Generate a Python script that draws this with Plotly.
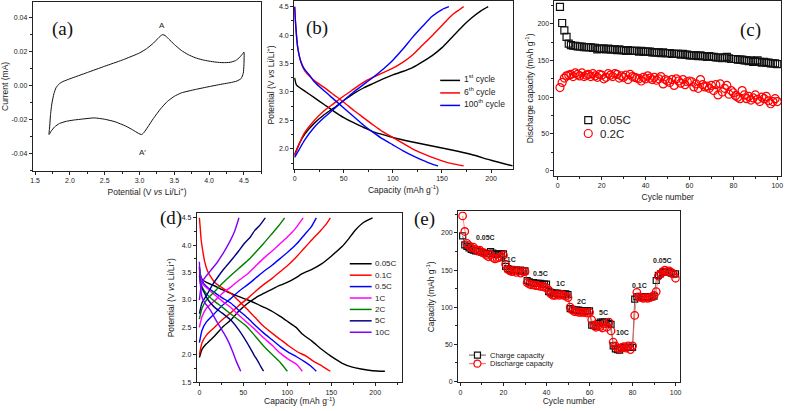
import plotly.graph_objects as go

W, H = 787, 411
SANS = 'Liberation Sans, Arial, sans-serif'
SERIF = 'Liberation Serif, Times New Roman, serif'

# ---------------- data ----------------
# (a) cyclic voltammogram: anodic sweep 1.7 -> 4.5 V, then cathodic sweep back
cv_potential = [1.70, 1.71, 1.72, 1.74, 1.77, 1.80, 1.85, 1.90, 2.00, 2.25, 2.50, 2.75, 3.00, 3.10,
                3.20, 3.28, 3.33, 3.37, 3.42, 3.50, 3.60, 3.70, 3.80, 3.90, 4.00, 4.10, 4.20, 4.30,
                4.38, 4.44, 4.48, 4.50,
                4.50, 4.49, 4.46, 4.40, 4.30, 4.20, 4.00, 3.80, 3.60, 3.50, 3.40, 3.30, 3.20, 3.12,
                3.06, 3.03, 2.98, 2.90, 2.80, 2.65, 2.50, 2.35, 2.20, 2.05, 1.95, 1.85, 1.78, 1.73, 1.70]
cv_current = [-0.0290, -0.0240, -0.0180, -0.0110, -0.0050, -0.0015, 0.0010, 0.0022, 0.0038, 0.0075,
              0.0112, 0.0148, 0.0190, 0.0215, 0.0248, 0.0282, 0.0298, 0.0292, 0.0272, 0.0240, 0.0205,
              0.0180, 0.0162, 0.0150, 0.0142, 0.0136, 0.0133, 0.0135, 0.0145, 0.0165, 0.0185, 0.0195,
              0.0120, 0.0070, 0.0040, 0.0025, 0.0015, 0.0008, -0.0008, -0.0025, -0.0045, -0.0065,
              -0.0095, -0.0140, -0.0195, -0.0245, -0.0280, -0.0290, -0.0282, -0.0262, -0.0240,
              -0.0215, -0.0200, -0.0192, -0.0198, -0.0205, -0.0212, -0.0225, -0.0245, -0.0270, -0.0290]

# (b) charge/discharge profiles of selected cycles
b_labels = ['1<sup>st</sup> cycle', '6<sup>th</sup> cycle', '100<sup>th</sup> cycle']
b_colors = ['#000000', '#ff0000', '#0000ff']
b_chg_cap = [
    [0, 5, 10, 20, 30, 40, 50, 60, 70, 80, 90, 100, 110, 120, 130, 140, 150, 160, 170, 180, 190, 197],
    [0, 5, 10, 20, 30, 40, 50, 60, 70, 80, 90, 100, 110, 120, 130, 140, 150, 160, 168, 172],
    [0, 5, 10, 20, 30, 40, 50, 60, 70, 80, 90, 100, 110, 120, 130, 140, 150, 157],
]
b_chg_v = [
    [1.90, 2.10, 2.25, 2.45, 2.60, 2.72, 2.85, 2.97, 3.07, 3.15, 3.23, 3.30, 3.36, 3.43, 3.53,
     3.64, 3.78, 3.96, 4.14, 4.30, 4.43, 4.50],
    [1.88, 2.10, 2.28, 2.50, 2.67, 2.80, 2.93, 3.05, 3.17, 3.26, 3.34, 3.42, 3.52, 3.65, 3.82,
     3.99, 4.17, 4.35, 4.45, 4.50],
    [1.85, 2.00, 2.15, 2.38, 2.55, 2.70, 2.85, 3.00, 3.13, 3.26, 3.40, 3.56, 3.75, 3.96, 4.15,
     4.33, 4.45, 4.50],
]
b_dis_cap = [
    [0, 2, 10, 20, 30, 40, 50, 60, 70, 80, 90, 100, 120, 140, 160, 180, 200, 222],
    [0, 1, 3, 6, 10, 15, 20, 30, 40, 50, 60, 70, 80, 90, 100, 110, 120, 130, 140, 150, 160, 172],
    [0, 1, 3, 6, 10, 15, 20, 30, 40, 50, 60, 70, 80, 90, 100, 110, 120, 130, 140, 146],
]
b_dis_v = [
    [3.25, 3.12, 3.02, 2.90, 2.78, 2.66, 2.55, 2.46, 2.38, 2.30, 2.25, 2.20, 2.12, 2.05, 1.98,
     1.90, 1.80, 1.70],
    [4.50, 4.20, 3.80, 3.55, 3.38, 3.28, 3.20, 3.08, 2.95, 2.82, 2.68, 2.55, 2.42, 2.30, 2.20,
     2.10, 2.00, 1.92, 1.85, 1.79, 1.74, 1.70],
    [4.50, 4.20, 3.80, 3.55, 3.40, 3.30, 3.18, 3.02, 2.87, 2.72, 2.57, 2.42, 2.29, 2.17, 2.07,
     1.97, 1.88, 1.80, 1.73, 1.70],
]

# (c) cycling at two rates
c_cycle = list(range(1, 101))
c_005 = [223, 201, 191, 182, 173, 171, 170, 170, 169, 169, 169, 168, 168, 168, 168, 167, 167, 165, 166, 166,
         166, 165, 166, 165, 165, 165, 164, 165, 164, 164, 163, 164, 163, 163, 163, 163, 162, 163, 162, 162,
         162, 162, 161, 161, 161, 161, 160, 161, 160, 160, 160, 159, 159, 159, 159, 158, 159, 158, 158, 157,
         157, 157, 157, 156, 157, 156, 156, 155, 156, 155, 155, 154, 154, 154, 153, 154, 155, 153, 152, 152,
         152, 151, 151, 151, 150, 150, 149, 150, 148, 149, 150, 148, 147, 148, 147, 147, 146, 146, 146, 145]
c_02 = [113, 120, 126, 129, 130, 131, 128, 133, 131, 129, 133, 128, 130, 131, 128, 132, 129, 127, 131, 130,
        125, 127, 132, 130, 128, 132, 131, 126, 129, 127, 130, 124, 131, 128, 127, 126, 125, 122, 127, 125,
        129, 126, 124, 127, 123, 125, 128, 118, 124, 122, 120, 124, 116, 125, 122, 119, 124, 117, 121, 122,
        121, 114, 118, 112, 124, 117, 114, 115, 112, 116, 109, 117, 103, 118, 107, 112, 116, 104, 109, 106,
        102, 100, 98, 109, 103, 98, 101, 96, 99, 103, 97, 94, 100, 98, 101, 95, 91, 94, 98, 94]

# (d) charge/discharge profiles at different rates
d_labels = ['0.05C', '0.1C', '0.5C', '1C', '2C', '5C', '10C']
d_colors = ['#000000', '#ff0000', '#0000ff', '#ff00ff', '#008000', '#000080', '#8000ff']
d_chg_cap = [
    [0, 3, 8, 17, 26, 36, 45, 55, 64, 73, 83, 92, 101, 110, 117, 128, 139, 150, 162, 170, 177, 187, 197],
    [0, 3, 8, 17, 26, 36, 45, 55, 64, 73, 83, 92, 101, 110, 119, 128, 138, 144, 149],
    [0, 3, 8, 17, 26, 36, 45, 55, 64, 73, 83, 92, 101, 111, 120, 127, 133],
    [0, 3, 8, 17, 26, 36, 45, 55, 64, 73, 83, 92, 100, 108, 118],
    [0, 3, 8, 17, 26, 36, 45, 55, 64, 73, 82, 90, 97],
    [0, 3, 8, 15, 21, 28, 36, 44, 51, 58, 63, 68, 75],
    [0, 2, 5, 13, 20, 28, 35, 40, 45],
]
d_chg_v = [
    [1.95, 2.10, 2.20, 2.34, 2.50, 2.64, 2.80, 2.94, 3.04, 3.12, 3.20, 3.27, 3.33, 3.41, 3.48, 3.56,
     3.66, 3.80, 3.97, 4.12, 4.27, 4.42, 4.50],
    [2.00, 2.22, 2.36, 2.50, 2.64, 2.77, 2.90, 3.03, 3.16, 3.28, 3.40, 3.52, 3.64, 3.78, 3.94, 4.10,
     4.27, 4.38, 4.50],
    [2.22, 2.45, 2.60, 2.75, 2.90, 3.03, 3.16, 3.28, 3.40, 3.52, 3.64, 3.76, 3.88, 4.03, 4.20, 4.33, 4.50],
    [2.50, 2.70, 2.85, 2.98, 3.12, 3.24, 3.36, 3.48, 3.62, 3.76, 3.90, 4.03, 4.15, 4.28, 4.50],
    [2.65, 2.85, 3.00, 3.15, 3.30, 3.45, 3.58, 3.72, 3.87, 4.03, 4.20, 4.35, 4.50],
    [2.75, 2.95, 3.08, 3.28, 3.42, 3.57, 3.72, 3.88, 4.03, 4.15, 4.27, 4.35, 4.50],
    [3.00, 3.25, 3.38, 3.54, 3.68, 3.88, 4.08, 4.25, 4.50],
]
d_dis_cap = [
    [0, 3, 8, 17, 26, 36, 45, 55, 64, 73, 83, 92, 101, 110, 117, 128, 139, 150, 162, 173, 184, 197, 211],
    [0, 1, 2, 4, 6, 9, 13, 17, 26, 36, 45, 55, 64, 73, 83, 92, 101, 111, 122, 130, 140, 149],
    [0, 2, 5, 10, 17, 26, 36, 45, 55, 64, 73, 83, 92, 101, 111, 120, 127, 133],
    [0, 2, 5, 10, 17, 26, 36, 45, 55, 64, 73, 83, 92, 101, 111, 117],
    [0, 2, 5, 10, 17, 26, 36, 45, 55, 64, 73, 83, 92, 100],
    [0, 2, 5, 10, 17, 26, 36, 45, 55, 62, 67, 70, 73],
    [0, 1, 3, 6, 10, 13, 20, 28, 33, 38, 42, 47],
]
d_dis_v = [
    [3.50, 3.38, 3.32, 3.26, 3.19, 3.12, 3.06, 3.00, 2.94, 2.87, 2.79, 2.70, 2.60, 2.50, 2.38, 2.25,
     2.10, 1.97, 1.85, 1.78, 1.74, 1.71, 1.70],
    [4.50, 4.30, 4.10, 3.88, 3.70, 3.54, 3.42, 3.33, 3.22, 3.12, 2.98, 2.82, 2.67, 2.52, 2.39, 2.28,
     2.17, 2.06, 1.97, 1.88, 1.79, 1.70],
    [3.60, 3.40, 3.30, 3.22, 3.14, 3.04, 2.94, 2.81, 2.67, 2.53, 2.40, 2.27, 2.15, 2.05, 1.96, 1.87,
     1.79, 1.70],
    [3.55, 3.38, 3.27, 3.20, 3.10, 2.98, 2.86, 2.72, 2.58, 2.45, 2.31, 2.17, 2.03, 1.92, 1.82, 1.70],
    [3.60, 3.30, 3.18, 3.08, 2.98, 2.87, 2.74, 2.63, 2.50, 2.33, 2.16, 2.00, 1.86, 1.70],
    [3.45, 3.25, 3.15, 3.00, 2.87, 2.76, 2.63, 2.45, 2.20, 2.00, 1.87, 1.78, 1.70],
    [3.70, 3.30, 3.05, 2.95, 2.87, 2.80, 2.60, 2.39, 2.24, 2.05, 1.88, 1.70],
]

# (e) rate capability
e_cycle = list(range(1, 101))
e_charge = [196, 184, 182, 180, 178, 177, 176, 176, 175, 174, 173, 172, 172, 175, 173, 172, 171, 172, 172, 172,
            155, 152, 151, 150, 150, 150, 149, 150, 149, 149,
            136, 134, 133, 133, 132, 132, 132, 131, 131, 131,
            121, 120, 119, 119, 119, 118, 118, 118, 118, 117,
            98, 97, 96, 96, 96, 95, 95, 95, 95, 95,
            76, 75, 74, 78, 80, 80, 80, 80, 78, 77,
            48, 44, 43, 42, 45, 46, 46, 46, 46, 46,
            111, 114, 114, 114, 114, 114, 114, 114, 114, 115,
            136, 143, 145, 147, 148, 148, 147, 146, 145, 145]
e_discharge = [223, 202, 186, 183, 180, 181, 178, 176, 177, 174, 173, 170, 168, 171, 167, 165, 166, 167, 168, 170,
               158, 151, 149, 148, 150, 147, 149, 146, 148, 148,
               133, 131, 130, 130, 129, 129, 128, 128, 127, 126,
               123, 118, 116, 116, 117, 116, 117, 116, 115, 113,
               100, 96, 94, 94, 93, 93, 93, 93, 92, 93,
               83, 76, 73, 75, 74, 72, 78, 73, 80, 68,
               53, 48, 45, 44, 46, 47, 45, 48, 43, 48,
               89, 120, 114, 113, 112, 113, 112, 113, 114, 116,
               121, 142, 145, 148, 150, 148, 149, 147, 145, 139]
e_rate_labels = ['0.05C', '0.1C', '0.5C', '1C', '2C', '5C', '10C', '0.1C', '0.05C']
e_rate_x = [11.7, 22.3, 37.0, 46.7, 56.4, 66.5, 75.5, 83.3, 94.0]
e_rate_y = [194, 164, 145, 132, 108, 93, 66, 129, 163]


def px(x):
    return x / W


def py(y):
    return 1 - y / H


def axis(dom, rng, anchor, title, standoff, tick0, dtick, minor, fmt='', tickvals=None, ticktext=None):
    d = dict(domain=dom, range=rng, anchor=anchor, showline=True, linecolor='#222', linewidth=1,
             mirror=True, ticks='outside', ticklen=3, tickwidth=1, tickcolor='#222',
             tickfont=dict(size=7, family=SANS, color='#222'), showgrid=False, zeroline=False,
             minor=dict(ticks='outside', ticklen=2, tickcolor='#222', tick0=tick0, dtick=minor),
             title=dict(text=title, font=dict(size=8.5, family=SANS, color='#222'), standoff=standoff))
    if tickvals is not None:
        d.update(tickmode='array', tickvals=tickvals, ticktext=ticktext)
    else:
        d.update(tickmode='linear', tick0=tick0, dtick=dtick, tickformat=fmt)
    return d


fig = go.Figure()

# (a)
fig.add_trace(go.Scatter(x=cv_potential, y=cv_current, mode='lines', xaxis='x', yaxis='y',
                         line=dict(color='#111', width=1, shape='spline', smoothing=0.5)))

# (b)
for i in range(3):
    fig.add_trace(go.Scatter(x=b_chg_cap[i], y=b_chg_v[i], mode='lines', xaxis='x2', yaxis='y2',
                             line=dict(color=b_colors[i], width=1.4, shape='spline', smoothing=0.6)))
    fig.add_trace(go.Scatter(x=b_dis_cap[i], y=b_dis_v[i], mode='lines', xaxis='x2', yaxis='y2',
                             line=dict(color=b_colors[i], width=1.4, shape='spline', smoothing=0.6)))

# (c)
fig.add_trace(go.Scatter(x=c_cycle, y=c_005, mode='markers', xaxis='x3', yaxis='y3',
                         marker=dict(symbol='square-open', size=7, color='#111', line=dict(width=1.2))))
fig.add_trace(go.Scatter(x=c_cycle, y=c_02, mode='markers', xaxis='x3', yaxis='y3',
                         marker=dict(symbol='circle-open', size=8, color='#ff0000', line=dict(width=1.2))))

# (d)
for i in range(7):
    fig.add_trace(go.Scatter(x=d_chg_cap[i], y=d_chg_v[i], mode='lines', xaxis='x4', yaxis='y4',
                             line=dict(color=d_colors[i], width=1.4, shape='spline', smoothing=0.6)))
    fig.add_trace(go.Scatter(x=d_dis_cap[i], y=d_dis_v[i], mode='lines', xaxis='x4', yaxis='y4',
                             line=dict(color=d_colors[i], width=1.4, shape='spline', smoothing=0.6)))

# (e)
fig.add_trace(go.Scatter(x=e_cycle, y=e_charge, mode='lines+markers', xaxis='x5', yaxis='y5',
                         line=dict(color='#333', width=0.7),
                         marker=dict(symbol='square-open', size=6, color='#111', line=dict(width=1.2))))
fig.add_trace(go.Scatter(x=e_cycle, y=e_discharge, mode='lines+markers', xaxis='x5', yaxis='y5',
                         line=dict(color='#ff5050', width=0.7),
                         marker=dict(symbol='circle-open', size=7.5, color='#ff0000', line=dict(width=1.3))))

pot_title = 'Potential (V <i>vs</i> Li/Li<sup>+</sup>)'
cap_title = 'Capacity (mAh g<sup>-1</sup>)'

layout = dict(
    width=W, height=H, margin=dict(l=0, r=0, t=0, b=0), showlegend=False,
    paper_bgcolor='white', plot_bgcolor='white', font=dict(family=SANS, color='#222'),
    xaxis=axis([px(30), px(260)], [1.467, 4.75], 'y', 'Potential (V <i>vs</i> Li/Li<sup>+</sup>)', 5,
               1.5, 0.5, 0.25, '.1f'),
    yaxis=axis([py(172), py(2)], [-0.0503, 0.049], 'x', 'Current (mA)', 3, -0.04, 0.02, 0.01,
               tickvals=[-0.04, -0.02, 0, 0.02, 0.04], ticktext=['-0.04', '-0.02', '0.00', '0.02', '0.04']),
    xaxis2=axis([px(293), px(513)], [-0.5, 222], 'y2', cap_title, 5, 0, 50, 25),
    yaxis2=axis([py(170), py(1)], [1.65, 4.6], 'x2', pot_title, 3, 2.0, 0.5, 0.25, '.1f'),
    xaxis3=axis([px(555), px(783)], [-1.5, 101.7], 'y3', 'Cycle number', 5, 0, 20, 10),
    yaxis3=axis([py(177), py(1)], [-7, 231], 'x3', 'Discharge capacity (mAh g<sup>-1</sup>)', 2,
                0, 50, 25),
    xaxis4=axis([px(195), px(402)], [-3, 231], 'y4', cap_title, 3, 0, 50, 25),
    yaxis4=axis([py(385), py(215)], [1.5, 4.58], 'x4', pot_title, 5, 1.5, 0.5, 0.25, '.1f'),
    xaxis5=axis([px(458), px(681)], [-1.1, 101.9], 'y5', 'Cycle number', 3, 0, 20, 10),
    yaxis5=axis([py(385), py(213)], [-1, 229], 'x5', 'Capacity (mAh g<sup>-1</sup>)', 5, 0, 50, 25),
)
fig.update_layout(**layout)

ann = []
shapes = []
# panel letters
for lab, x, y in [('(a)', 48, 17), ('(b)', 316, 16), ('(c)', 764, 18), ('(d)', 157, 220), ('(e)', 424, 221)]:
    ann.append(dict(text=lab, x=px(x), y=py(y), xref='paper', yref='paper', showarrow=False,
                    borderpad=0, font=dict(family=SERIF, size=19, color='#111')))
# CV peak labels
ann.append(dict(text='A', x=3.32, y=0.0352, xref='x', yref='y', showarrow=False,
                font=dict(size=8, family=SANS, color='#222')))
ann.append(dict(text='A′', x=3.04, y=-0.0395, xref='x', yref='y', showarrow=False,
                font=dict(size=8, family=SANS, color='#222')))

# (b) legend
for i, (lab, col) in enumerate(zip(b_labels, b_colors)):
    yy = 81 + i * 12.6
    shapes.append(dict(type='line', xref='paper', yref='paper', x0=px(440), x1=px(460), y0=py(yy), y1=py(yy),
                       line=dict(color=col, width=1.5)))
    ann.append(dict(text=lab, x=px(462), y=py(yy), xref='paper', yref='paper', xanchor='left',
                    yanchor='middle', yshift=1.5, showarrow=False,
                    font=dict(size=8.5, family=SANS, color='#222')))

# (c) legend
shapes.append(dict(type='rect', xref='paper', yref='paper', xsizemode='pixel', ysizemode='pixel',
                   xanchor=px(589), yanchor=py(121), x0=-3.5, x1=3.5, y0=-3.5, y1=3.5,
                   line=dict(color='#111', width=1.2)))
shapes.append(dict(type='circle', xref='paper', yref='paper', xsizemode='pixel', ysizemode='pixel',
                   xanchor=px(589), yanchor=py(134.5), x0=-4, x1=4, y0=-4, y1=4,
                   line=dict(color='#ff0000', width=1.2)))
for lab, yy in [('0.05C', 121), ('0.2C', 134.5)]:
    ann.append(dict(text=lab, x=px(599), y=py(yy), xref='paper', yref='paper', xanchor='left',
                    yanchor='middle', showarrow=False, font=dict(size=11.5, family=SANS, color='#222')))

# (d) legend
for i, (lab, col) in enumerate(zip(d_labels, d_colors)):
    yy = 265.7 + i * 11.5
    shapes.append(dict(type='line', xref='paper', yref='paper', x0=px(349), x1=px(371), y0=py(yy), y1=py(yy),
                       line=dict(color=col, width=1.5)))
    ann.append(dict(text=lab, x=px(372), y=py(yy), xref='paper', yref='paper', xanchor='left',
                    yanchor='middle', showarrow=False, font=dict(size=8, family=SANS, color='#222')))

# (e) rate labels and legend
for lab, x, y in zip(e_rate_labels, e_rate_x, e_rate_y):
    ann.append(dict(text='<b>' + lab + '</b>', x=x, y=y, xref='x5', yref='y5', showarrow=False,
                    font=dict(size=7, family=SANS, color='#222')))
for lab, col, yy, kind, sz in [('Charge capacity', '#333', 357.7, 'rect', 3),
                               ('Discharge capacity', '#ff3030', 366.3, 'circle', 3.5)]:
    shapes.append(dict(type='line', xref='paper', yref='paper', x0=px(469), x1=px(486), y0=py(yy), y1=py(yy),
                       line=dict(color=col, width=0.8)))
    shapes.append(dict(type=kind, xref='paper', yref='paper', xsizemode='pixel', ysizemode='pixel',
                       xanchor=px(477.5), yanchor=py(yy), x0=-sz, x1=sz, y0=-sz, y1=sz,
                       fillcolor='white', line=dict(color='#111' if kind == 'rect' else '#ff0000', width=1.2)))
    ann.append(dict(text=lab, x=px(488), y=py(yy), xref='paper', yref='paper', xanchor='left',
                    yanchor='middle', showarrow=False, font=dict(size=7.5, family=SANS, color='#222')))

fig.update_layout(annotations=ann, shapes=shapes)
# the page body has a default 8px margin; remove it so the figure fills the window exactly
fig.write_html('out.html', config={'displayModeBar': False},
               post_script="document.body.style.margin='0';")
